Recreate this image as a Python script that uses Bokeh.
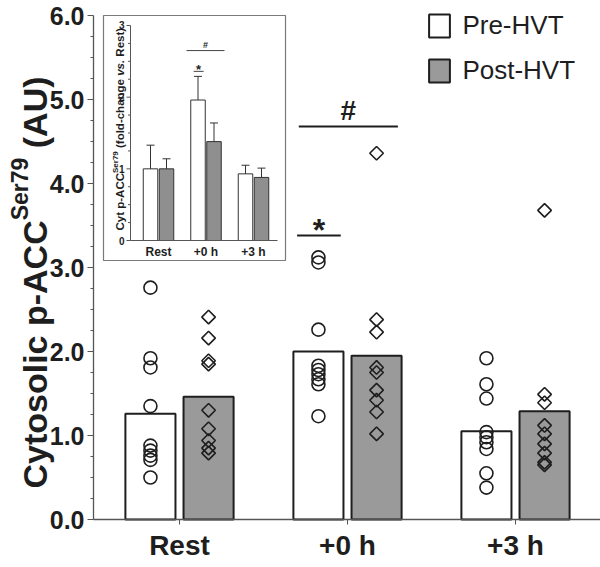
import math
from bokeh.plotting import figure
from bokeh.models import (Range1d, FixedTicker, PrintfTickFormatter, Label,
                          Legend, LegendItem)
from bokeh.core.properties import value
from bokeh.embed import file_html
from bokeh.resources import INLINE

# ---------------- data ----------------
categories = ["Rest", "+0 h", "+3 h"]
series_names = ["Pre-HVT", "Post-HVT"]
pre_mean = [1.26, 2.00, 1.05]
post_mean = [1.46, 1.95, 1.29]
pre_rest = [2.76, 1.92, 1.81, 1.35, 0.88, 0.82, 0.76, 0.71, 0.50]
pre_0h = [3.12, 3.06, 2.26, 1.83, 1.78, 1.73, 1.67, 1.61, 1.23]
pre_3h = [1.92, 1.61, 1.44, 1.04, 0.98, 0.92, 0.84, 0.55, 0.38]
post_rest = [2.41, 2.16, 1.89, 1.85, 1.30, 1.08, 0.94, 0.85, 0.79]
post_0h = [4.36, 2.38, 2.23, 1.81, 1.75, 1.54, 1.42, 1.28, 1.02]
post_3h = [3.68, 1.49, 1.39, 1.12, 1.02, 0.90, 0.79, 0.68, 0.65]
main_y_ticks = [0, 1, 2, 3, 4, 5, 6]
main_y_minor = [0.25, 0.5, 0.75, 1.25, 1.5, 1.75, 2.25, 2.5, 2.75, 3.25, 3.5, 3.75,
                4.25, 4.5, 4.75, 5.25, 5.5, 5.75]
main_star_span = [0.70, 0.96]
main_star_level = 3.38
main_hash_span = [0.71, 1.30]
main_hash_level = 4.68

inset_pre = [1.00, 1.96, 0.93]
inset_pre_err = [0.33, 0.33, 0.12]
inset_post = [1.00, 1.38, 0.88]
inset_post_err = [0.14, 0.26, 0.13]
inset_y_ticks = [0, 1, 2, 3]
inset_y_minor = [0.25, 0.5, 0.75, 1.25, 1.5, 1.75, 2.25, 2.5, 2.75]
inset_star_span = [0.74, 0.95]
inset_star_level = 2.36
inset_hash_span = [0.59, 1.39]
inset_hash_level = 2.65

# ---------------- layout constants (page px; canvas == page) ----------------
FONT = "Liberation Sans"
DARK = "#1e1e1e"
AXIS = "#555555"
GRAY = "#9a9a9a"
OFF = 0.173        # dodge of main bars
BW = 0.298         # main bar width
PW, PH = 600, 567
YAXIS_PX = 93
CAT0, STEP = 179.0, 168.0        # main x: category 0 at px 179
Y0PX, YUNIT = 519.0, 84.0         # main y: value 0 at px 519
ICAT0, ISTEP = 158.0, 47.5        # inset x
IY0, IUNIT = 240.0, 71.67         # inset y

def mxp(px):
    return (px - CAT0) / STEP

def myp(py):
    return (Y0PX - py) / YUNIT

def ixp(px):
    return (px - ICAT0) / ISTEP

def iyp(py):
    return (IY0 - py) / IUNIT

def ly(py):  # label screen y (from frame bottom)
    return PH - py

# Arial/Liberation Sans Bold advance widths (per 1000 em)
W = {'C': 722, 'y': 556, 't': 333, 'o': 611, 's': 556, 'l': 278, 'i': 278, 'c': 556,
     ' ': 278, 'p': 611, '-': 333, 'A': 722, 'S': 667, 'e': 556, 'r': 389, '7': 556,
     '9': 556, '(': 333, ')': 333, 'U': 722, 'f': 333, 'd': 611, 'h': 611, 'a': 556,
     'n': 611, 'g': 611, 'v': 556, '.': 278, 'R': 722}

def tw(s, size):
    return sum(W[c] for c in s) / 1000.0 * size

# ---------------- figure ----------------
p = figure(width=PW, height=PH,
           x_range=Range1d(mxp(0), mxp(PW)), y_range=Range1d(myp(PH), myp(0)),
           output_backend="svg", toolbar_location=None,
           min_border_left=0, min_border_top=0, min_border_right=0, min_border_bottom=0)
p.outline_line_color = None
p.xgrid.visible = False
p.ygrid.visible = False
p.background_fill_color = "white"
p.border_fill_color = "white"
p.extra_x_ranges = {"ix": Range1d(ixp(0), ixp(PW))}
p.extra_y_ranges = {"iy": Range1d(iyp(PH), iyp(0))}

# axes (fixed inside the full-canvas frame)
yax = p.yaxis[0]
yax.fixed_location = mxp(YAXIS_PX)
yax.bounds = (main_y_ticks[0], main_y_ticks[-1])
yax.ticker = FixedTicker(ticks=main_y_ticks, minor_ticks=main_y_minor)
yax.formatter = PrintfTickFormatter(format="%.1f")
yax.axis_line_color = AXIS
yax.axis_line_width = 1.3
yax.major_tick_line_color = AXIS
yax.minor_tick_line_color = AXIS
yax.major_tick_in = 0
yax.major_tick_out = 6
yax.minor_tick_in = 0
yax.minor_tick_out = 3
yax.major_label_standoff = 3
yax.major_label_text_font = FONT
yax.major_label_text_font_style = "bold"
yax.major_label_text_font_size = "25px"
yax.major_label_text_color = DARK

xax = p.xaxis[0]
xax.fixed_location = 0
xax.bounds = (mxp(YAXIS_PX), mxp(PW))
xax.ticker = FixedTicker(ticks=[0, 1, 2], minor_ticks=[])
xax.major_label_overrides = {i: c for i, c in enumerate(categories)}
xax.axis_line_color = AXIS
xax.axis_line_width = 1.3
xax.major_tick_line_color = AXIS
xax.major_tick_in = 0
xax.major_tick_out = 5
xax.major_label_standoff = 5
xax.major_label_text_font = FONT
xax.major_label_text_font_style = "bold"
xax.major_label_text_font_size = "28px"
xax.major_label_text_color = DARK

# bars
xs = list(range(len(categories)))
pre_r = p.vbar(x=[x - OFF for x in xs], top=pre_mean, width=BW, bottom=0,
               fill_color="white", line_color=DARK, line_width=2)
post_r = p.vbar(x=[x + OFF for x in xs], top=post_mean, width=BW, bottom=0,
                fill_color=GRAY, line_color=DARK, line_width=2)

# individual points
for i, pts in enumerate([pre_rest, pre_0h, pre_3h]):
    p.scatter(x=[i - OFF] * len(pts), y=pts, marker="circle", size=13,
              fill_alpha=0, line_color=DARK, line_width=1.6)
for i, pts in enumerate([post_rest, post_0h, post_3h]):
    p.scatter(x=[i + OFF] * len(pts), y=pts, marker="square", angle=math.pi / 4,
              size=9.6, fill_alpha=0, line_color=DARK, line_width=1.6)

# significance marks (main)
p.segment(x0=[main_star_span[0]], x1=[main_star_span[1]], y0=[main_star_level],
          y1=[main_star_level], line_color=DARK, line_width=2)
p.text(x=[sum(main_star_span) / 2], y=[main_star_level], text=["*"], y_offset=-6,
       text_font=value(FONT), text_font_style="bold", text_font_size="32px",
       text_align="center", text_baseline="alphabetic", text_color=DARK)
p.segment(x0=[main_hash_span[0]], x1=[main_hash_span[1]], y0=[main_hash_level],
          y1=[main_hash_level], line_color=DARK, line_width=2)
p.text(x=[sum(main_hash_span) / 2], y=[main_hash_level], text=["#"], y_offset=-16,
       text_font=value(FONT), text_font_style="bold", text_font_size="28px",
       text_align="center", text_baseline="alphabetic", text_color=DARK)

# legend (location: bottom-left corner, frame-relative)
legend = Legend(items=[LegendItem(label=series_names[0], renderers=[pre_r]),
                       LegendItem(label=series_names[1], renderers=[post_r])],
                location=(426.4, ly(85.5)), orientation="vertical",
                glyph_width=26, glyph_height=29, label_height=29, spacing=14,
                padding=0, margin=0, border_line_color=None,
                background_fill_alpha=0, label_standoff=10,
                label_text_font=FONT, label_text_font_size="26px",
                label_text_color=DARK)
p.add_layout(legend)

# main y-axis title (rotated, with superscript)
F, f = 34, 23
t1, t2, t3 = "Cytosolic p-ACC", "Ser79", "(AU)"
L = tw(t1, F) + tw(t2, f) + tw(" " + t3, F)
y0 = ly(282) - L / 2
for txt, yy, xx, sz in [(t1, y0, 34, F),
                        (t2, y0 + tw(t1, F), 19, f),
                        (t3, y0 + tw(t1, F) + tw(t2, f) + tw(" ", F), 34, F)]:
    p.add_layout(Label(x=xx, y=yy, x_units="screen", y_units="screen", text=txt,
                       angle=math.pi / 2, text_font=FONT, text_font_style="bold",
                       text_font_size=f"{sz}px", text_color=DARK,
                       text_align="left", text_baseline="alphabetic"))

# ---------------- inset ----------------
IR = dict(x_range_name="ix", y_range_name="iy")
p.quad(left=[ixp(103)], right=[ixp(285)], bottom=[iyp(260)], top=[iyp(15)],
       fill_color="white", line_color="#7a7a7a", line_width=1.2, **IR)

IOFF = 8 / ISTEP
IBW = 14.5 / ISTEP
p.vbar(x=[x - IOFF for x in xs], top=inset_pre, width=IBW, bottom=0,
       fill_color="white", line_color="#333333", line_width=1, **IR)
p.vbar(x=[x + IOFF for x in xs], top=inset_post, width=IBW, bottom=0,
       fill_color="#8f8f8f", line_color="#333333", line_width=1, **IR)
cap = 4 / ISTEP
for off, m, e in [(-IOFF, inset_pre, inset_pre_err), (IOFF, inset_post, inset_post_err)]:
    bx = [x + off for x in xs]
    tops = [a + b for a, b in zip(m, e)]
    p.segment(x0=bx, x1=bx, y0=m, y1=tops, line_color="#333333", line_width=1, **IR)
    p.segment(x0=[x - cap for x in bx], x1=[x + cap for x in bx], y0=tops, y1=tops,
              line_color="#333333", line_width=1, **IR)

# inset axes
iax = ixp(130)
p.segment(x0=[iax], x1=[iax], y0=[0], y1=[inset_y_ticks[-1]], line_color=AXIS,
          line_width=1, **IR)
p.segment(x0=[iax], x1=[ixp(277)], y0=[0], y1=[0], line_color=AXIS, line_width=1, **IR)
p.segment(x0=[iax - 4 / ISTEP] * len(inset_y_ticks), x1=[iax] * len(inset_y_ticks),
          y0=inset_y_ticks, y1=inset_y_ticks, line_color=AXIS, line_width=1, **IR)
p.segment(x0=[iax - 2.5 / ISTEP] * len(inset_y_minor), x1=[iax] * len(inset_y_minor),
          y0=inset_y_minor, y1=inset_y_minor, line_color=AXIS, line_width=1, **IR)
p.text(x=[iax - 6 / ISTEP] * len(inset_y_ticks), y=inset_y_ticks,
       text=[str(t) for t in inset_y_ticks], text_font=value(FONT),
       text_font_style="bold", text_font_size="10px", text_align="right",
       text_baseline="middle", text_color=DARK, **IR)
p.text(x=xs, y=[iyp(251)] * 3, text=categories, text_font=value(FONT),
       text_font_style="bold", text_font_size="12px", text_align="center",
       text_baseline="middle", text_color=DARK, **IR)

# inset significance
p.segment(x0=[inset_star_span[0]], x1=[inset_star_span[1]], y0=[inset_star_level],
          y1=[inset_star_level], line_color="#444444", line_width=1, **IR)
p.text(x=[sum(inset_star_span) / 2], y=[inset_star_level], text=["*"], y_offset=-2,
       text_font=value(FONT), text_font_style="bold", text_font_size="13px",
       text_align="center", text_baseline="alphabetic", text_color=DARK, **IR)
p.segment(x0=[inset_hash_span[0]], x1=[inset_hash_span[1]], y0=[inset_hash_level],
          y1=[inset_hash_level], line_color="#444444", line_width=1, **IR)
p.text(x=[sum(inset_hash_span) / 2], y=[inset_hash_level], text=["#"], y_offset=-6,
       text_font=value(FONT), text_font_style="bold", text_font_size="9px",
       text_align="center", text_baseline="alphabetic", text_color=DARK, **IR)

# inset y title
G, g = 11.5, 8
parts = [("Cyt p-ACC", G, "bold", 0), ("Ser79", g, "bold", -4.5),
         ("(fold-change", G, "bold", 0), ("vs.", G, "bold italic", 0),
         ("Rest)", G, "bold", 0)]
yy = ly(230)
for k, (txt, sz, st, dx) in enumerate(parts):
    if k in (2, 3, 4):
        yy += tw(" ", G)
    p.add_layout(Label(x=119 + dx, y=yy, x_units="screen", y_units="screen",
                       text=txt, angle=math.pi / 2, text_font=FONT,
                       text_font_style=st, text_font_size=f"{sz}px",
                       text_color=DARK, text_align="left",
                       text_baseline="alphabetic"))
    yy += tw(txt, sz)

open("out.html", "w").write(file_html(p, INLINE))
